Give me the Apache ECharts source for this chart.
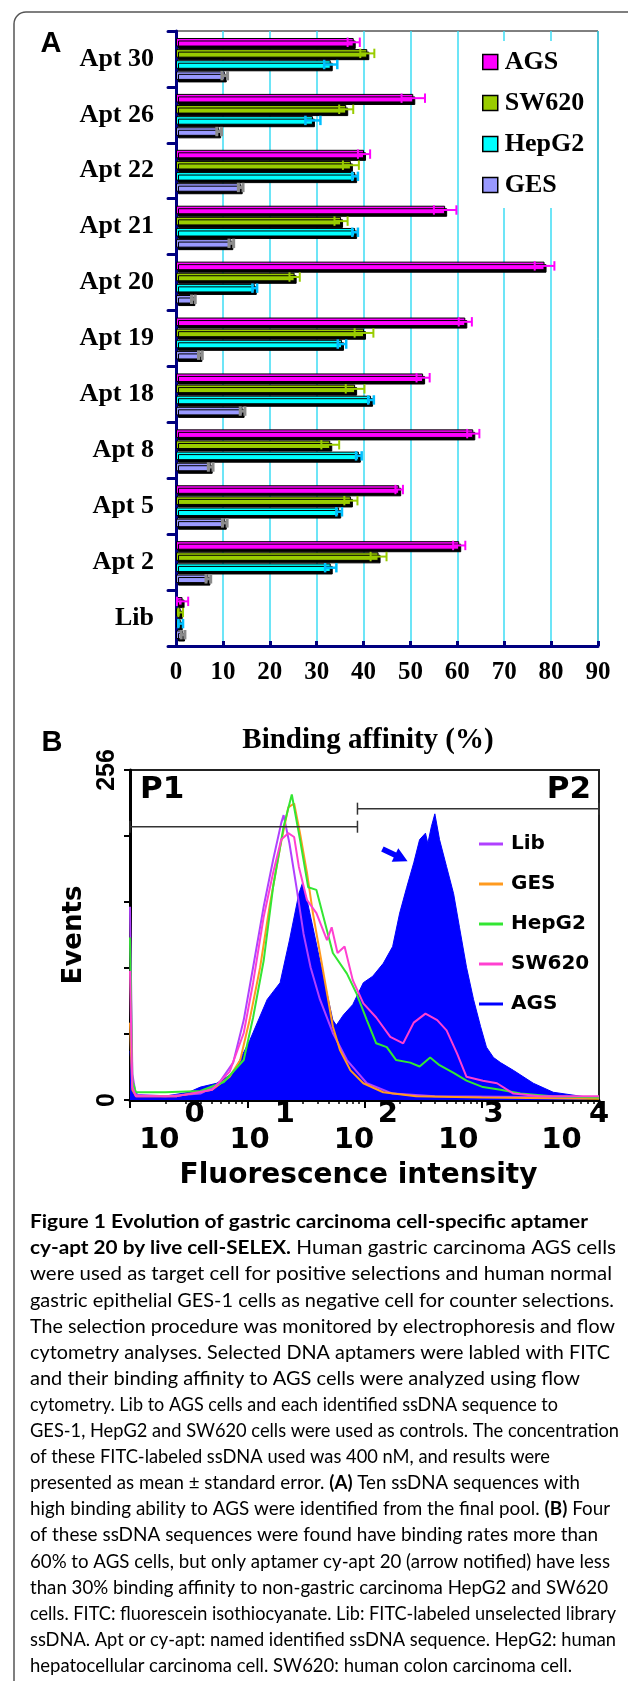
<!DOCTYPE html>
<html><head><meta charset="utf-8">
<script src="https://cdn.jsdelivr.net/npm/echarts@6/dist/echarts.min.js"></script>
<style>html,body{margin:0;padding:0;background:#fff}#c{width:628px;height:1681px}</style>
</head><body><div id="c"></div>
<script>
// ---------- Panel A data ----------
const categories = ['Apt 30','Apt 26','Apt 22','Apt 21','Apt 20','Apt 19','Apt 18','Apt 8','Apt 5','Apt 2','Lib'];
const agsVals   = [37.9, 50.6, 40.1, 57.4, 78.6, 61.7, 52.7, 63.4, 47.6, 60.4, 1.4];
const agsErr    = [1.3, 2.5, 1.3, 2.4, 2.1, 1.4, 1.4, 1.3, 0.8, 1.3, 1.2];
const sw620Vals = [40.8, 36.3, 37.3, 35.2, 25.3, 40.1, 38.2, 32.9, 37.3, 43.2, 1.0];
const sw620Err  = [1.5, 1.5, 1.7, 1.4, 1.1, 2.0, 2.0, 1.9, 1.4, 1.7, 0.5];
const hepg2Vals = [33.0, 29.2, 38.2, 38.2, 16.8, 35.4, 41.6, 39.0, 34.8, 33.0, 1.0];
const hepg2Err  = [1.4, 1.6, 0.6, 0.6, 0.5, 0.9, 0.6, 0.6, 0.6, 1.2, 0.5];
const gesVals   = [10.4, 9.2, 13.8, 11.8, 3.7, 5.2, 14.2, 7.4, 10.4, 6.9, 1.5];
const gesErr    = [0.6, 0.5, 0.5, 0.5, 0.4, 0.4, 0.5, 0.5, 0.5, 0.5, 0.4];
const affinityMax = 90;
const affinityStep = 10;

// ---------- Panel B data: [log10 fluorescence, events] ----------
const agsCurve = [[0,38],[0.03,6],[0.1,3],[0.3,3],[0.5,6],[0.6,10],[0.74,13],[0.88,21],[1.02,46],[1.17,78],[1.28,91],[1.36,124],[1.44,160],[1.47,168],[1.51,155],[1.56,134],[1.62,108],[1.68,83],[1.73,62],[1.76,58],[1.82,66],[1.9,74],[1.99,91],[2.07,96],[2.16,106],[2.24,119],[2.3,145],[2.36,165],[2.42,184],[2.47,202],[2.52,207],[2.54,199],[2.57,212],[2.6,222],[2.64,202],[2.7,181],[2.76,160],[2.81,134],[2.87,103],[2.93,78],[2.99,57],[3.04,41],[3.1,33],[3.16,29],[3.27,23],[3.44,13],[3.61,6],[3.84,3],[4,1]];
const libCurve = [[0,150],[0.02,20],[0.05,4],[0.3,3],[0.6,5],[0.75,12],[0.88,29],[0.97,62],[1.05,103],[1.14,150],[1.22,186],[1.29,215],[1.31,221],[1.36,199],[1.42,165],[1.48,129],[1.54,103],[1.62,78],[1.73,52],[1.85,31],[2.02,13],[2.24,5],[2.6,3],[4,2]];
const gesCurve = [[0,60],[0.02,8],[0.05,3],[0.4,3],[0.7,8],[0.85,18],[0.94,31],[1.02,62],[1.11,103],[1.19,150],[1.28,196],[1.35,227],[1.4,230],[1.45,207],[1.51,176],[1.56,145],[1.62,114],[1.68,83],[1.73,57],[1.79,39],[1.88,23],[1.99,13],[2.16,6],[2.44,3],[3.0,2],[4,1]];
const hepg2Curve = [[0,126],[0.02,15],[0.05,6],[0.3,6],[0.6,7],[0.8,14],[0.97,31],[1.05,64],[1.14,108],[1.22,165],[1.31,212],[1.38,237],[1.45,202],[1.52,165],[1.59,163],[1.65,142],[1.73,114],[1.85,98],[1.93,83],[2.02,62],[2.1,44],[2.19,41],[2.27,31],[2.39,29],[2.47,26],[2.56,33],[2.64,27],[2.76,21],[2.87,15],[3.01,10],[3.16,8],[3.33,5],[3.6,3],[4,2]];
const sw620Curve = [[0,100],[0.02,10],[0.05,3],[0.4,3],[0.7,8],[0.85,22],[0.97,52],[1.05,91],[1.14,142],[1.22,176],[1.29,202],[1.35,207],[1.4,204],[1.44,181],[1.51,155],[1.59,145],[1.68,124],[1.72,134],[1.77,114],[1.83,119],[1.9,93],[1.99,75],[2.1,64],[2.22,49],[2.33,44],[2.42,60],[2.52,67],[2.62,62],[2.7,54],[2.79,36],[2.87,18],[3.01,15],[3.13,13],[3.27,5],[3.5,3],[4,3]];
const gateStart = [0, 1.94];
const gateEnd   = [1.94, 4];
const gateLevel = [212, 226];
const gateNames = ['P1','P2'];
const arrowAt   = [2.26, 190];
const eventsMax = 256;
const decadeExp = ['0','1','2','3','4'];
const tenLabelPos = [0.25, 1.02, 1.91, 2.8, 3.68];
const expLabelPos = [0.55, 1.32, 2.2, 3.1, 4.0];

const captionLines = [
 '**Figure 1 Evolution of gastric carcinoma cell-specific aptamer**',
 '**cy-apt 20 by live cell-SELEX.** Human gastric carcinoma AGS cells',
 'were used as target cell for positive selections and human normal',
 'gastric epithelial GES-1 cells as negative cell for counter selections.',
 'The selection procedure was monitored by electrophoresis and flow',
 'cytometry analyses. Selected DNA aptamers were labled with FITC',
 'and their binding affinity to AGS cells were analyzed using flow',
 'cytometry. Lib to AGS cells and each identified ssDNA sequence to',
 'GES-1, HepG2 and SW620 cells were used as controls. The concentration',
 'of these FITC-labeled ssDNA used was 400 nM, and results were',
 'presented as mean \u00b1 standard error. **(A)** Ten ssDNA sequences with',
 'high binding ability to AGS were identified from the final pool. **(B)** Four',
 'of these ssDNA sequences were found have binding rates more than',
 '60% to AGS cells, but only aptamer cy-apt 20 (arrow notified) have less',
 'than 30% binding affinity to non-gastric carcinoma HepG2 and SW620',
 'cells. FITC: fluorescein isothiocyanate. Lib: FITC-labeled unselected library',
 'ssDNA. Apt or cy-apt: named identified ssDNA sequence. HepG2: human',
 'hepatocellular carcinoma cell. SW620: human colon carcinoma cell.'
];
// right edge of each caption line in the layout (px)
const captionRight = [588, 616, 612, 614, 615, 610, 580, 558, 619, 550, 580, 610, 598, 610, 608, 616, 616, 572];

// ---------- helpers ----------
const NAVY = '#000080';
const SERIF = 'Liberation Serif';
const SANS = 'DejaVu Sans';
const CAP_FONT = 19.5, CAP_LEFT = 30, CAP_TOP = 1222, CAP_STEP = 26.1;
const CAT_GAP = 0.25, BAR_GAP = 0.3, NSER = 4;

function barSeries(name, vals, color) {
  return {
    type: 'bar', name, xAxisIndex: 0, yAxisIndex: 0, data: vals,
    barCategoryGap: (CAT_GAP * 100) + '%', barGap: (BAR_GAP * 100) + '%',
    itemStyle: { color, borderColor: '#000', borderWidth: 1,
      shadowColor: '#000', shadowOffsetX: 2, shadowOffsetY: 2.5, shadowBlur: 0 },
    silent: true, z: 2
  };
}
function errSeries(name, vals, errs, idx, color, lw) {
  return {
    type: 'custom', name: name + ' error', xAxisIndex: 0, yAxisIndex: 0, z: 6, silent: true,
    data: vals.map((v, i) => [v, i, errs[i]]),
    encode: { x: [0], y: 1 },
    renderItem: (params, api) => {
      const v = api.value(0), c = api.value(1), e = api.value(2);
      const band = api.size([0, 1])[1];
      const inner = band * (1 - CAT_GAP);
      const w = inner / (NSER + (NSER - 1) * BAR_GAP);
      const off = -inner / 2 + idx * w * (1 + BAR_GAP) + w / 2;
      const p0 = api.coord([v - e, c]), p1 = api.coord([v + e, c]);
      const y = p0[1] + off, h = w * 0.55;
      const st = { stroke: color, lineWidth: lw };
      return { type: 'group', children: [
        { type: 'line', shape: { x1: p0[0], y1: y, x2: p1[0], y2: y }, style: st },
        { type: 'line', shape: { x1: p0[0], y1: y - h, x2: p0[0], y2: y + h }, style: st },
        { type: 'line', shape: { x1: p1[0], y1: y - h, x2: p1[0], y2: y + h }, style: st }
      ]};
    }
  };
}
function flowSeries(name, data, color, z) {
  return { type: 'line', name, xAxisIndex: 1, yAxisIndex: 1, data, symbol: 'none',
    lineStyle: { color, width: 2 }, itemStyle: { color }, z, silent: true };
}
function toRich(s) {
  return s.split('**').map((t, i) => t ? '{' + (i % 2 ? 'b' : 'n') + '|' + t + '}' : '').join('');
}
const measureCtx = document.createElement('canvas').getContext('2d');
function naturalWidth(s) {
  let w = 0;
  s.split('**').forEach((t, i) => {
    measureCtx.font = (i % 2 ? 'bold ' : '') + CAP_FONT + 'px Lato';
    w += measureCtx.measureText(t).width;
  });
  return w;
}
const minorTicks = [];
for (let n = 0; n < 4; n++) for (let k = 2; k <= 9; k++) minorTicks.push(n + Math.log10(k));

const chart = echarts.init(document.getElementById('c'), null, { renderer: 'canvas' });

const graphics = [
  { type: 'rect', shape: { x: 14, y: 12, width: 720, height: 1800, r: 12 },
    style: { fill: 'none', stroke: '#555', lineWidth: 1.5 }, z: 0 },
  { type: 'text', x: 51, y: 44, style: { text: 'A', font: 'bold 29px "Liberation Sans"', fill: '#000', align: 'center', verticalAlign: 'middle' } },
  { type: 'text', x: 52, y: 743, style: { text: 'B', font: 'bold 29px "Liberation Sans"', fill: '#000', align: 'center', verticalAlign: 'middle' } }
];
captionLines.forEach((line, i) => {
  const nat = naturalWidth(line);
  let sx = (captionRight[i] - CAP_LEFT) / nat;
  sx = Math.max(0.82, Math.min(1.12, sx));
  graphics.push({ type: 'text', x: CAP_LEFT, y: CAP_TOP + i * CAP_STEP, scaleX: sx, style: {
    text: toRich(line), verticalAlign: 'middle', align: 'left',
    rich: {
      n: { fontFamily: 'Lato', fontSize: CAP_FONT, color: '#231f20' },
      b: { fontFamily: 'Lato', fontSize: CAP_FONT, fontWeight: 'bold', color: '#231f20' }
    } } });
});

const option = {
  animation: false,
  backgroundColor: '#fff',
  textStyle: { fontFamily: SANS },
  grid: [
    { left: 176, top: 31, width: 422, height: 615, show: true, borderColor: '#000', borderWidth: 1, backgroundColor: 'transparent' },
    { left: 130, top: 770, width: 469, height: 330, show: true, borderColor: '#222', borderWidth: 2, backgroundColor: 'transparent' }
  ],
  legend: [
    { data: ['AGS', 'SW620', 'HepG2', 'GES'], orient: 'vertical', left: 474, top: 41,
      padding: [8, 10, 10, 8], itemGap: 15, itemWidth: 15, itemHeight: 15, icon: 'rect',
      backgroundColor: '#fff', selectedMode: false,
      itemStyle: { borderColor: '#000', borderWidth: 1.5, shadowColor: 'transparent', shadowOffsetX: 0, shadowOffsetY: 0 },
      textStyle: { fontFamily: SERIF, fontWeight: 'bold', fontSize: 26, color: '#000', padding: [0, 0, 0, 2] } },
    { data: ['Lib (B)', 'GES (B)', 'HepG2 (B)', 'SW620 (B)', 'AGS (B)'], orient: 'vertical', left: 479, top: 832,
      padding: 0, itemGap: 16, itemWidth: 24, itemHeight: 3, icon: 'rect', selectedMode: false,
      formatter: n => n.replace(' (B)', ''),
      textStyle: { fontFamily: SANS, fontWeight: 'bold', fontSize: 20, color: '#000', padding: [0, 0, 0, 3], lineHeight: 24 } }
  ],
  xAxis: [
    { gridIndex: 0, type: 'value', min: 0, max: affinityMax, interval: affinityStep, position: 'bottom',
      name: 'Binding affinity (%)', nameLocation: 'middle', nameGap: 80,
      nameTextStyle: { fontFamily: SERIF, fontWeight: 'bold', fontSize: 29, color: '#000', padding: [0, 38, 0, 0] },
      axisLine: { show: true, lineStyle: { color: NAVY, width: 3 } },
      axisTick: { show: true, inside: true, length: 5, lineStyle: { color: NAVY, width: 3 } },
      axisLabel: { margin: 14, fontFamily: SERIF, fontWeight: 'bold', fontSize: 25, color: '#000' },
      splitLine: { show: true, lineStyle: { color: '#3cdcf4', width: 1.5 } } },
    { gridIndex: 1, type: 'value', min: 0, max: 4, position: 'bottom',
      name: 'Fluorescence intensity', nameLocation: 'middle', nameGap: 62,
      nameTextStyle: { fontFamily: SANS, fontWeight: 'bold', fontSize: 28, color: '#000', padding: [0, 12, 0, 0] },
      axisLine: { show: true, onZero: false, lineStyle: { color: '#000', width: 3 } },
      axisTick: { show: true, length: 8, customValues: [0, 1, 2, 3, 4], lineStyle: { color: '#000', width: 2 } },
      axisLabel: { show: false }, splitLine: { show: false } },
    { gridIndex: 1, type: 'value', min: 0, max: 4, position: 'bottom',
      axisLine: { show: false },
      axisTick: { show: true, length: 4, customValues: minorTicks, lineStyle: { color: '#000', width: 1.5 } },
      axisLabel: { show: true, customValues: tenLabelPos, formatter: () => '10', margin: 26,
        fontFamily: SANS, fontWeight: 'bold', fontSize: 29, color: '#000' },
      splitLine: { show: false } },
    { gridIndex: 1, type: 'value', min: 0, max: 4, position: 'bottom',
      axisLine: { show: false }, axisTick: { show: false },
      axisLabel: { show: true, customValues: expLabelPos,
        formatter: v => decadeExp[expLabelPos.findIndex(p => Math.abs(p - v) < 1e-6)],
        margin: 0, fontFamily: SANS, fontWeight: 'bold', fontSize: 29, color: '#000' },
      splitLine: { show: false } }
  ],
  yAxis: [
    { gridIndex: 0, type: 'category', data: categories, inverse: true,
      axisLine: { show: true, lineStyle: { color: NAVY, width: 3 } },
      axisTick: { show: true, length: 8, lineStyle: { color: NAVY, width: 3, cap: 'round' } },
      axisLabel: { margin: 22, fontFamily: SERIF, fontWeight: 'bold', fontSize: 26, color: '#000' },
      splitLine: { show: false } },
    { gridIndex: 1, type: 'value', min: 0, max: eventsMax, interval: eventsMax / 5,
      name: 'Events', nameLocation: 'middle', nameRotate: 90, nameGap: 38,
      nameTextStyle: { fontFamily: SANS, fontWeight: 'bold', fontSize: 26, color: '#000' },
      axisLine: { show: true, lineStyle: { color: '#000', width: 3 } },
      axisTick: { show: true, length: 6, lineStyle: { color: '#000', width: 2 } },
      axisLabel: { rotate: 90, margin: 10, fontFamily: 'Liberation Sans', fontWeight: 'bold', fontSize: 25, color: '#000',
        formatter: v => (v === 0 ? '0' : (Math.abs(v - eventsMax) < 0.01 ? String(eventsMax) : '')) },
      splitLine: { show: false } }
  ],
  series: [
    barSeries('AGS', agsVals, '#ff00ff'),
    barSeries('SW620', sw620Vals, '#99cc00'),
    barSeries('HepG2', hepg2Vals, '#00ffff'),
    barSeries('GES', gesVals, '#9999ff'),
    errSeries('AGS', agsVals, agsErr, 0, '#ff00ff', 2),
    errSeries('SW620', sw620Vals, sw620Err, 1, '#99cc00', 2),
    errSeries('HepG2', hepg2Vals, hepg2Err, 2, '#00bfff', 2.5),
    errSeries('GES', gesVals, gesErr, 3, '#8c8c8c', 3),
    Object.assign(flowSeries('AGS (B)', agsCurve, '#0000ff', 2), {
      areaStyle: { color: '#0000ff', opacity: 1 }, lineStyle: { color: '#0000ff', width: 1 },
      markPoint: { silent: true, symbol: 'path://M0,5 L13,5 L13,0 L26,8 L13,16 L13,11 L0,11 Z',
        symbolSize: [28, 15], symbolRotate: -26, itemStyle: { color: '#0000ff' }, label: { show: false },
        data: [{ coord: arrowAt }] } }),
    flowSeries('Lib (B)', libCurve, '#b040ff', 4),
    flowSeries('GES (B)', gesCurve, '#ff9a1f', 4),
    flowSeries('HepG2 (B)', hepg2Curve, '#33e633', 4),
    flowSeries('SW620 (B)', sw620Curve, '#ff40d0', 4),
    { type: 'custom', name: 'gates', xAxisIndex: 1, yAxisIndex: 1, z: 7, silent: true,
      data: gateStart.map((s, i) => [s, gateEnd[i], gateLevel[i], gateNames[i]]),
      encode: { x: [0, 1], y: 2 },
      renderItem: (params, api) => {
        const a = api.coord([api.value(0), api.value(2)]);
        const b = api.coord([api.value(1), api.value(2)]);
        const st = { stroke: '#333', lineWidth: 1.5 };
        return { type: 'group', children: [
          { type: 'line', shape: { x1: a[0], y1: a[1], x2: b[0], y2: b[1] }, style: st },
          { type: 'line', shape: { x1: a[0], y1: a[1] - 6, x2: a[0], y2: a[1] + 6 }, style: st },
          { type: 'line', shape: { x1: b[0], y1: b[1] - 6, x2: b[0], y2: b[1] + 6 }, style: st }
        ]};
      } }
  ],
  graphic: graphics.concat([
    { type: 'text', x: 140, y: 790, style: { text: gateNames[0], font: 'bold 31px "DejaVu Sans"', fill: '#000', align: 'left', verticalAlign: 'middle' }, z: 10 },
    { type: 'text', x: 591, y: 790, style: { text: gateNames[1], font: 'bold 31px "DejaVu Sans"', fill: '#000', align: 'right', verticalAlign: 'middle' }, z: 10 }
  ])
};
chart.setOption(option);
</script>
</body></html>
